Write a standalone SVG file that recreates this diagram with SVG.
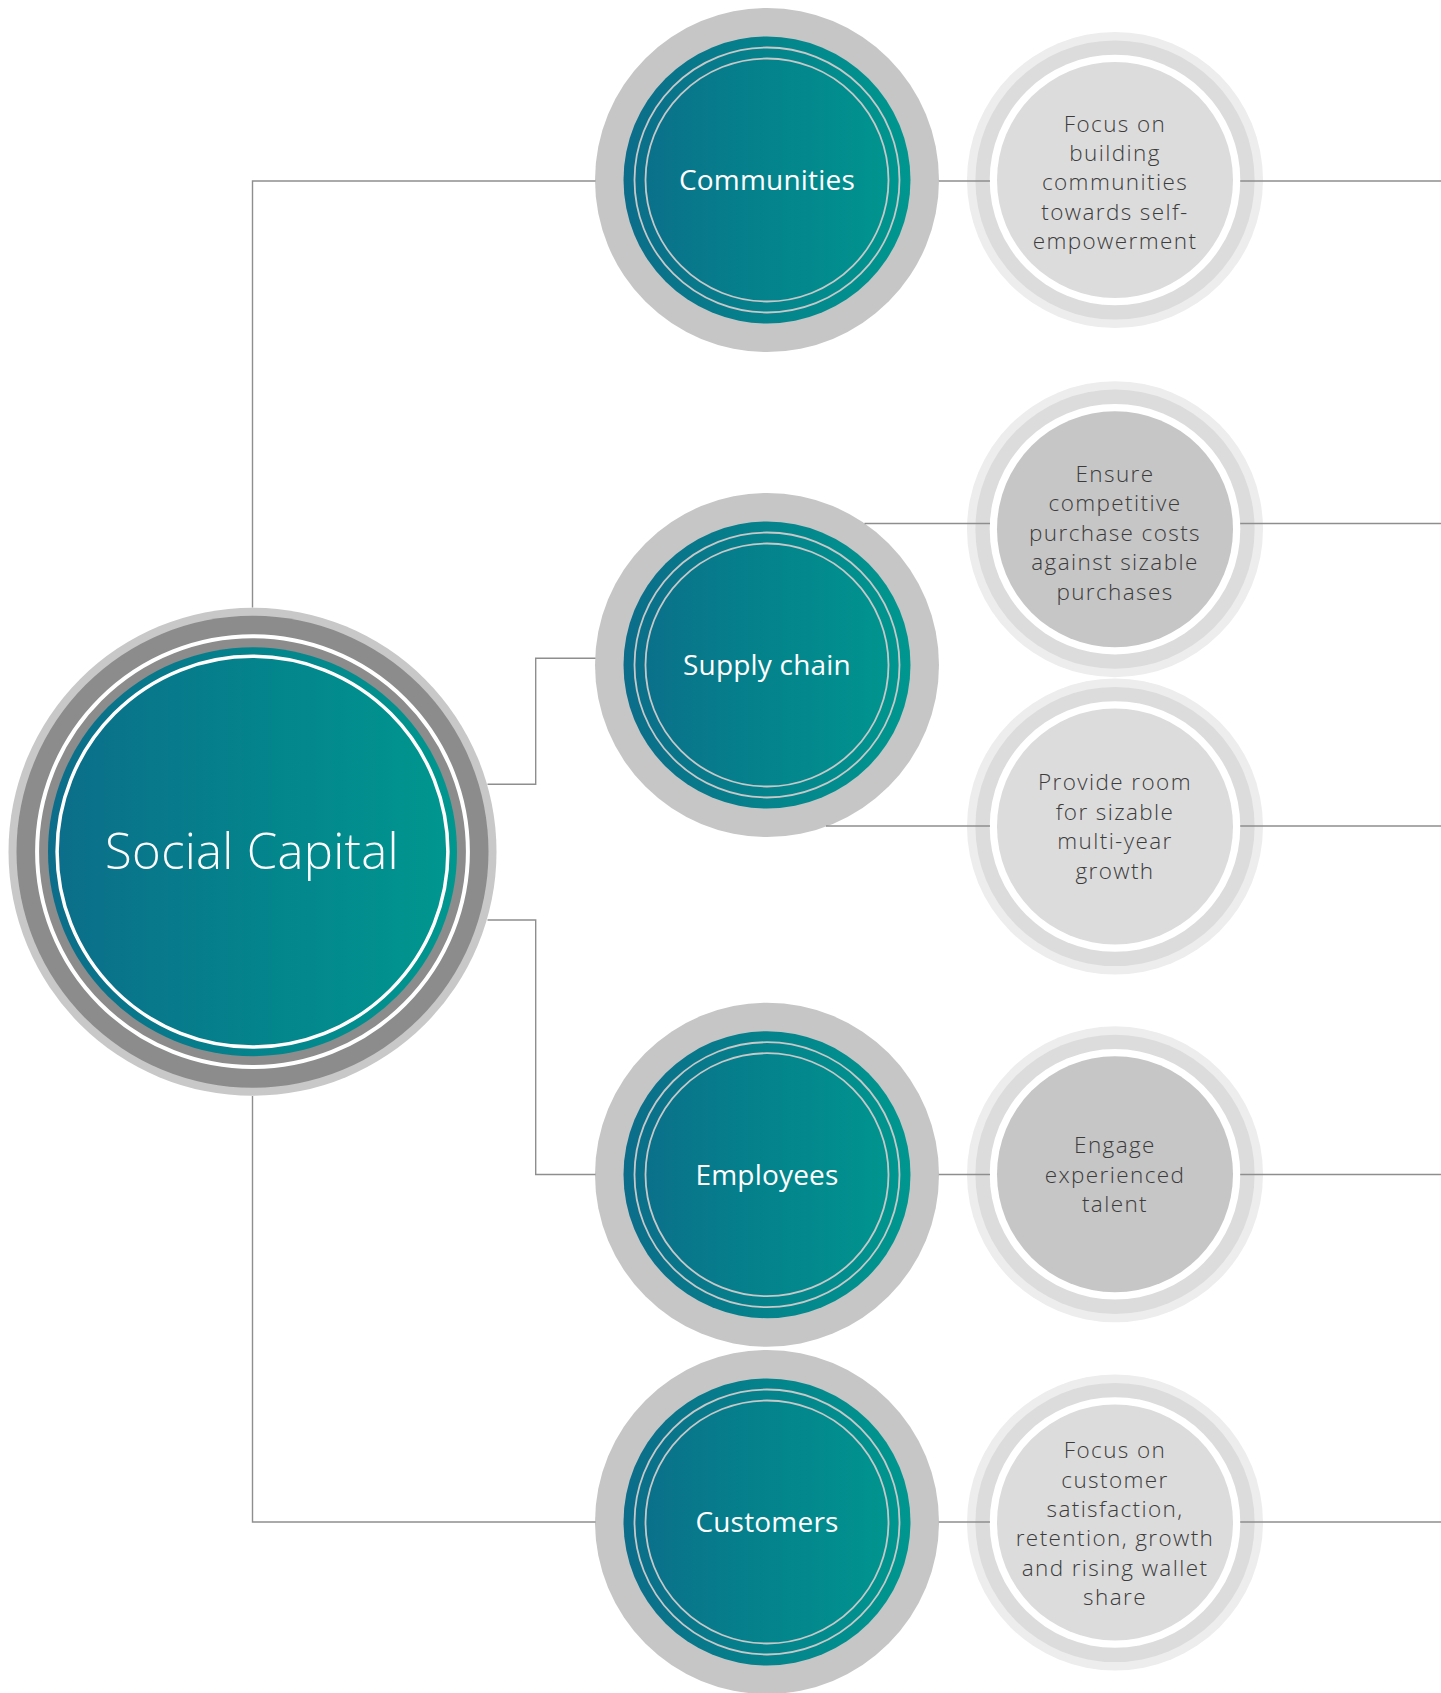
<svg xmlns="http://www.w3.org/2000/svg" width="1441" height="1693" viewBox="0 0 1441 1693">
  <defs>
    <linearGradient id="teal" x1="0" y1="0" x2="1" y2="0">
      <stop offset="0" stop-color="#0c6d8a"/>
      <stop offset="0.5" stop-color="#04838c"/>
      <stop offset="1" stop-color="#00978f"/>
    </linearGradient>
  </defs>
  <style>
    .bg { fill: #ffffff; }
    .halo { fill: #c6c6c6; }
    .tealdisk { fill: url(#teal); }
    .tring { fill: none; stroke: #c8c8c8; stroke-width: 1.8; }
    .d1 { fill: #ededed; }
    .d2 { fill: #dcdcdc; }
    .dw { fill: #ffffff; }
    .fillLight { fill: #dcdcdc; }
    .fillDark { fill: #c6c6c6; }
    .conn { fill: none; stroke: #8e8e8e; stroke-width: 1.4; }
    .lbl { font-family: "Open Sans", "Liberation Sans", sans-serif; font-size: 28px; fill: #ffffff; text-anchor: middle; letter-spacing: 0.2px; }
    .main { font-family: "Open Sans", "Liberation Sans", sans-serif; font-size: 49px; font-weight: 300; fill: #ffffff; text-anchor: middle; letter-spacing: 0.3px; }
    .dt { font-family: "Open Sans", "Liberation Sans", sans-serif; font-size: 22.5px; font-weight: 300; fill: #3c3c3c; text-anchor: middle; letter-spacing: 1.4px; }
  </style>
  <rect class="bg" x="0" y="0" width="1441" height="1693"/>

  <!-- Central node -->
  <g id="social-capital">
    <circle cx="252.5" cy="851.7" r="244" fill="#c8c8c8"/>
    <circle cx="252.5" cy="851.7" r="236" fill="#8c8c8c"/>
    <circle cx="252.5" cy="851.7" r="215.4" fill="none" stroke="#ffffff" stroke-width="4"/>
    <circle cx="252.5" cy="851.7" r="204.5" class="tealdisk"/>
    <circle cx="252.5" cy="851.7" r="195.4" fill="none" stroke="#ffffff" stroke-width="3.5"/>
    <text class="main" x="252" y="869">Social Capital</text>
  </g>

  <!-- Stakeholder nodes -->
  <g id="communities">
    <circle cx="767" cy="180" r="172" class="halo"/>
    <circle cx="767" cy="180" r="143.5" class="tealdisk"/>
    <circle cx="767" cy="180" r="132.5" class="tring"/>
    <circle cx="767" cy="180" r="121.5" class="tring"/>
    <text class="lbl" x="767" y="190">Communities</text>
  </g>
  <g id="supply-chain">
    <circle cx="767" cy="665" r="172" class="halo"/>
    <circle cx="767" cy="665" r="143.5" class="tealdisk"/>
    <circle cx="767" cy="665" r="132.5" class="tring"/>
    <circle cx="767" cy="665" r="121.5" class="tring"/>
    <text class="lbl" x="767" y="675">Supply chain</text>
  </g>
  <g id="employees">
    <circle cx="767" cy="1174.7" r="172" class="halo"/>
    <circle cx="767" cy="1174.7" r="143.5" class="tealdisk"/>
    <circle cx="767" cy="1174.7" r="132.5" class="tring"/>
    <circle cx="767" cy="1174.7" r="121.5" class="tring"/>
    <text class="lbl" x="767" y="1184.5">Employees</text>
  </g>
  <g id="customers">
    <circle cx="767" cy="1522" r="172" class="halo"/>
    <circle cx="767" cy="1522" r="143.5" class="tealdisk"/>
    <circle cx="767" cy="1522" r="132.5" class="tring"/>
    <circle cx="767" cy="1522" r="121.5" class="tring"/>
    <text class="lbl" x="767" y="1532">Customers</text>
  </g>

  <!-- Detail nodes -->
  <g id="communities-detail">
    <circle cx="1115" cy="180" r="148" class="d1"/>
    <circle cx="1115" cy="180" r="139.6" class="d2"/>
    <circle cx="1115" cy="180" r="125.3" class="dw"/>
    <circle cx="1115" cy="180" r="118" class="fillLight"/>
    <text class="dt" x="1115" y="132">Focus on</text>
    <text class="dt" x="1115" y="161.2">building</text>
    <text class="dt" x="1115" y="190.4">communities</text>
    <text class="dt" x="1115" y="219.6">towards self-</text>
    <text class="dt" x="1115" y="248.8">empowerment</text>
  </g>
  <g id="supply-detail-1">
    <circle cx="1115" cy="529.2" r="148" class="d1"/>
    <circle cx="1115" cy="529.2" r="139.6" class="d2"/>
    <circle cx="1115" cy="529.2" r="125.3" class="dw"/>
    <circle cx="1115" cy="529.2" r="118" class="fillDark"/>
    <text class="dt" x="1115" y="481.7">Ensure</text>
    <text class="dt" x="1115" y="511.2">competitive</text>
    <text class="dt" x="1115" y="540.7">purchase costs</text>
    <text class="dt" x="1115" y="570.2">against sizable</text>
    <text class="dt" x="1115" y="599.7">purchases</text>
  </g>
  <g id="supply-detail-2">
    <circle cx="1115" cy="826.5" r="148" class="d1"/>
    <circle cx="1115" cy="826.5" r="139.6" class="d2"/>
    <circle cx="1115" cy="826.5" r="125.3" class="dw"/>
    <circle cx="1115" cy="826.5" r="118" class="fillLight"/>
    <text class="dt" x="1115" y="790">Provide room</text>
    <text class="dt" x="1115" y="819.5">for sizable</text>
    <text class="dt" x="1115" y="849">multi-year</text>
    <text class="dt" x="1115" y="878.5">growth</text>
  </g>
  <g id="employees-detail">
    <circle cx="1115" cy="1174.3" r="148" class="d1"/>
    <circle cx="1115" cy="1174.3" r="139.6" class="d2"/>
    <circle cx="1115" cy="1174.3" r="125.3" class="dw"/>
    <circle cx="1115" cy="1174.3" r="118" class="fillDark"/>
    <text class="dt" x="1115" y="1153.3">Engage</text>
    <text class="dt" x="1115" y="1182.8">experienced</text>
    <text class="dt" x="1115" y="1212.3">talent</text>
  </g>
  <g id="customers-detail">
    <circle cx="1115" cy="1522.5" r="148" class="d1"/>
    <circle cx="1115" cy="1522.5" r="139.6" class="d2"/>
    <circle cx="1115" cy="1522.5" r="125.3" class="dw"/>
    <circle cx="1115" cy="1522.5" r="118" class="fillLight"/>
    <text class="dt" x="1115" y="1458.3">Focus on</text>
    <text class="dt" x="1115" y="1487.6">customer</text>
    <text class="dt" x="1115" y="1516.9">satisfaction,</text>
    <text class="dt" x="1115" y="1546.2">retention, growth</text>
    <text class="dt" x="1115" y="1575.5">and rising wallet</text>
    <text class="dt" x="1115" y="1604.8">share</text>
  </g>

  <!-- Connectors -->
  <g id="connectors">
    <path class="conn" d="M252.5 607.5 V181 H595.5"/>
    <path class="conn" d="M252.5 1096 V1522 H595.5"/>
    <path class="conn" d="M487.5 784.3 H535.7 V658.3 H595.5"/>
    <path class="conn" d="M487.5 920 H535.7 V1174.5 H595.5"/>
    <path class="conn" d="M938.8 181 H990"/>
    <path class="conn" d="M1240.2 181 H1441"/>
    <path class="conn" d="M864.5 523.5 H990"/>
    <path class="conn" d="M1240.2 523.5 H1441"/>
    <path class="conn" d="M826 826 H990"/>
    <path class="conn" d="M1240.2 826 H1441"/>
    <path class="conn" d="M938.8 1174.5 H990"/>
    <path class="conn" d="M1240.2 1174.5 H1441"/>
    <path class="conn" d="M938.8 1522 H990"/>
    <path class="conn" d="M1240.2 1522 H1441"/>
  </g>
</svg>
